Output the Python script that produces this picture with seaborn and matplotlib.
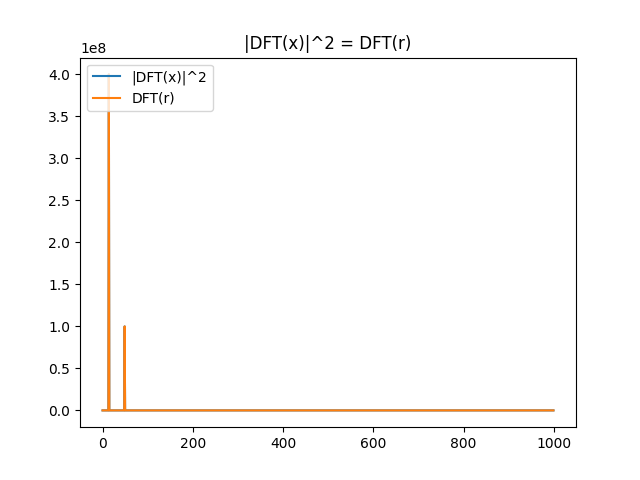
import numpy as np
import pandas as pd
import seaborn as sns
import matplotlib
matplotlib.use('Agg')
import matplotlib.pyplot as plt

# spectrum is flat zero except two spikes
n_bins = 1000
peak_bins = [14, 49]
peak_power = [4.0e8, 1.0e8]

freq = np.arange(n_bins)
power = np.zeros(n_bins)
power[peak_bins] = peak_power

df = pd.DataFrame({'k': freq, 'dft_x_sq': power, 'dft_r': power})

fig, ax = plt.subplots(figsize=(6.4, 4.8), dpi=100)
sns.lineplot(data=df, x='k', y='dft_x_sq', ax=ax, label='|DFT(x)|^2', color='C0')
sns.lineplot(data=df, x='k', y='dft_r', ax=ax, label='DFT(r)', color='C1')
ax.set_xlabel('')
ax.set_ylabel('')
ax.set_title('|DFT(x)|^2 = DFT(r)')
ax.legend(loc='upper left')

plt.savefig('out.png')
